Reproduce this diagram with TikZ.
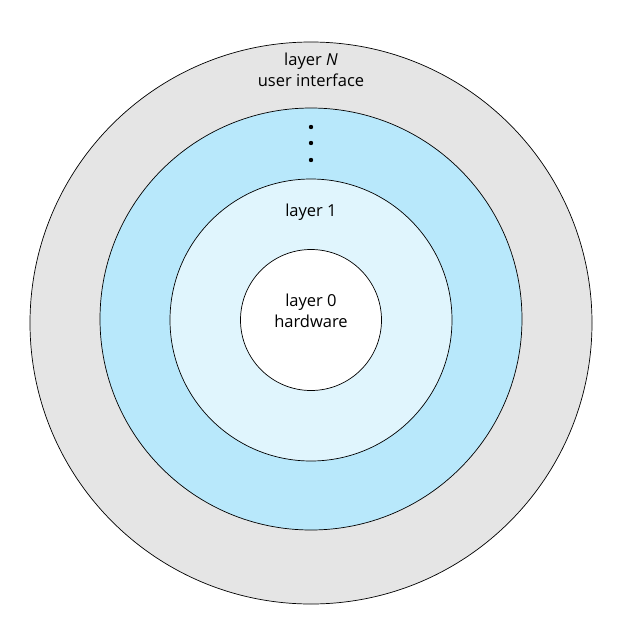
\documentclass[tikz,border=0pt]{standalone}
\usepackage{fontspec}
\setmainfont{Open Sans}
\begin{document}
\begin{tikzpicture}[x=1pt,y=-1pt,
  ring/.style={circle,draw=black,line width=0.7pt,inner sep=0pt},
  lbl/.style={font=\fontsize{16.5}{21}\selectfont,align=center}]
\useasboundingbox (0,0) rectangle (622,635);
\fill[white] (0,0) rectangle (622,635);
\node[ring,fill=black!10,minimum size=562pt] (n) at (311,323) {};
\node[ring,fill=cyan!28,minimum size=422pt] (m) at (311,319) {};
\node[ring,fill=cyan!12,minimum size=282pt] (one) at (311,320) {};
\node[ring,fill=white,minimum size=141pt] (zero) at (311,320) {};
\node[lbl] (tn) at (311,70) {layer \textit{N}\\user interface};
\node[lbl] (t1) at (311,212) {layer 1};
\node[lbl] (t0) at (311,311) {layer 0\\hardware};
\foreach \y in {127,143,160} \fill (311,\y) circle (2.2pt);
\end{tikzpicture}
\end{document}
